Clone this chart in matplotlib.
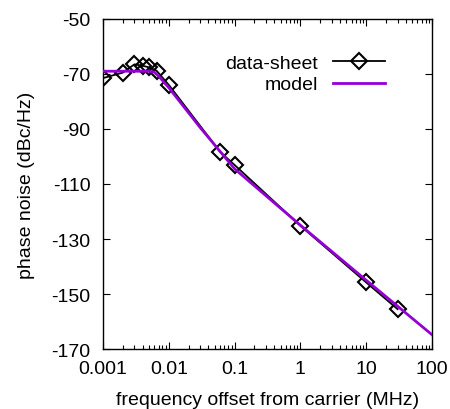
import matplotlib
matplotlib.use("Agg")
import matplotlib.pyplot as plt
from matplotlib.ticker import LogLocator, NullFormatter

plt.rcParams['font.family'] = ['Liberation Sans', 'DejaVu Sans']

# data-sheet points
ds_freq = [0.001, 0.002, 0.003, 0.004, 0.005, 0.0065, 0.01, 0.06, 0.1, 1, 10, 30]
ds_pn = [-71.5, -69.5, -66.5, -67.0, -67.6, -68.8, -74.0, -98.3, -103.1, -125.2, -145.8, -155.5]

# model curve
model_freq = [0.001, 0.005, 0.006, 0.007, 0.01, 0.03, 0.1, 1, 10, 100]
model_pn = [-69.0, -69.0, -69.3, -70.8, -75.0, -89.5, -104.5, -125.0, -145.0, -164.8]

xticks = [0.001, 0.01, 0.1, 1, 10, 100]
xticklabels = ['0.001', '0.01', '0.1', '1', '10', '100']
yticks = [-170, -150, -130, -110, -90, -70, -50]

fig = plt.figure(figsize=(4.5, 4.1), dpi=100)
ax = fig.add_axes([0.229, 0.1463, 0.731, 0.805])

ax.plot(ds_freq, ds_pn, color='black', lw=1.3, marker='D', markersize=8.5,
        markerfacecolor='none', markeredgecolor='black', markeredgewidth=1.5,
        label='data-sheet', zorder=2)
ax.plot(model_freq, model_pn, color='#9400D3', lw=2.0, label='model', zorder=3)

ax.set_xscale('log')
ax.set_xlim(0.001, 100)
ax.set_ylim(-170, -50)
ax.set_xticks(xticks)
ax.set_xticklabels(xticklabels)
ax.xaxis.set_minor_locator(LogLocator(base=10, subs=range(2, 10), numticks=20))
ax.xaxis.set_minor_formatter(NullFormatter())
ax.set_yticks(yticks)
ax.set_yticklabels([str(v) for v in yticks])

ax.tick_params(axis='both', which='both', direction='in', top=True, right=True,
               labelsize=14, width=0.8)
ax.tick_params(axis='both', which='major', length=5)
ax.tick_params(axis='both', which='minor', length=3)
ax.tick_params(axis='x', which='major', pad=8)
ax.tick_params(axis='y', which='major', pad=9)
for s in ax.spines.values():
    s.set_linewidth(1.0)

ax.set_xlabel('frequency offset from carrier (MHz)', fontsize=14, labelpad=10)
ax.set_ylabel('phase noise (dBc/Hz)', fontsize=14, labelpad=12)

leg = ax.legend(loc='upper right', bbox_to_anchor=(0.857, 0.893), frameon=False,
                markerfirst=False, fontsize=14, handlelength=2.67,
                borderaxespad=0, borderpad=0, handletextpad=0.77,
                labelspacing=0.2)
for t in leg.get_texts():
    t.set_ha('right')

fig.savefig('out.png', dpi=100)
